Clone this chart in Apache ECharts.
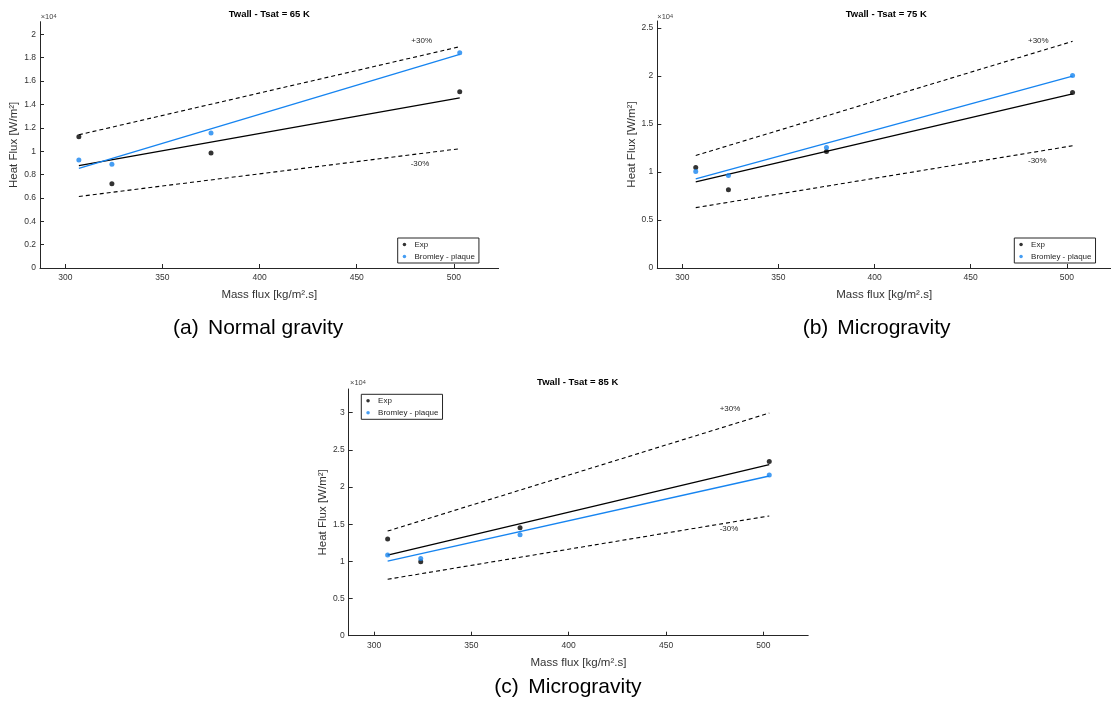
<!DOCTYPE html>
<html>
<head>
<meta charset="utf-8">
<script src="https://cdn.jsdelivr.net/npm/echarts@6/dist/echarts.min.js"></script>
<style>
html,body{margin:0;padding:0;background:#fff;}
#chart{width:1111px;height:707px;}
</style>
</head>
<body>
<div id="chart"></div>
<script>
// ---------- data ----------
const massFlux = [307, 324, 375, 503];          // kg/m2.s
const fitX = [307, 503];

// (a) Twall - Tsat = 65 K, normal gravity   [W/m2]
const expA      = [11240, 7210, 9840, 15080];
const bromA     = [9240, 8870, 11560, 18430];
const expFitA   = [8760, 14560];
const bromFitA  = [8530, 18280];
const plusA     = [11400, 18940];
const minusA    = [6120, 10210];

// (b) Twall - Tsat = 75 K, microgravity
const expB      = [10470, 8140, 12140, 18290];
const bromB     = [10050, 9630, 12550, 20060];
const expFitB   = [8970, 18150];
const bromFitB  = [9280, 19990];
const plusB     = [11720, 23610];
const minusB    = [6290, 12730];

// (c) Twall - Tsat = 85 K, microgravity
const expC      = [13000, 9940, 14510, 23430];
const bromC     = [10870, 10390, 13580, 21610];
const expFitC   = [10850, 23000];
const bromFitC  = [10030, 21480];
const plusC     = [14070, 29950];
const minusC    = [7590, 16110];

// axis ticks
const xTicks  = [300, 350, 400, 450, 500];
const yTicksA = [0, 2000, 4000, 6000, 8000, 10000, 12000, 14000, 16000, 18000, 20000];
const yTicksB = [0, 5000, 10000, 15000, 20000, 25000];
const yTicksC = [0, 5000, 10000, 15000, 20000, 25000, 30000];
const xRange = [287, 523];
const yMaxA = 21080, yMaxB = 25730, yMaxC = 33180;

const titles   = ['Twall - Tsat = 65 K', 'Twall - Tsat = 75 K', 'Twall - Tsat = 85 K'];
const captionTags = ['(a)', '(b)', '(c)'];
const captions = ['Normal gravity', 'Microgravity', 'Microgravity'];
const legendNames = ['Exp', 'Bromley - plaque'];
const xName = 'Mass flux [kg/m\u00B2.s]';
const yName = 'Heat Flux [W/m\u00B2]';

// ---------- styling / layout ----------
const FONT = '"Liberation Sans", Arial, Helvetica, sans-serif';
const AXIS = '#262626';
const BLUE = '#1684f0';

const grids = [
  {left: 40,    top: 21.7, width: 458.6, height: 246.3},
  {left: 657.3, top: 21,   width: 458.6, height: 247},
  {left: 348.7, top: 389,  width: 459.5, height: 246.7}
];
const yMax = [yMaxA, yMaxB, yMaxC];
const yTicks = [yTicksA, yTicksB, yTicksC];

function fmtY(v){ return String(Number((v/1e4).toFixed(2))); }

const xAxes = grids.map((g,i)=>({
  type:'value', gridIndex:i, min:xRange[0], max:xRange[1],
  splitLine:{show:false},
  axisLine:{show:true, onZero:false, lineStyle:{color:AXIS, width:1}},
  axisTick:{show:true, inside:true, length:4, customValues:xTicks, lineStyle:{color:AXIS}},
  axisLabel:{show:true, customValues:xTicks, margin:5, fontSize:8.5, color:'#333', fontFamily:FONT},
  name:xName, nameLocation:'middle', nameGap:21,
  nameTextStyle:{fontSize:11.5, color:'#333', fontFamily:FONT}
}));
const yAxes = grids.map((g,i)=>({
  type:'value', gridIndex:i, min:0, max:yMax[i],
  splitLine:{show:false},
  axisLine:{show:true, onZero:false, lineStyle:{color:AXIS, width:1}},
  axisTick:{show:true, inside:true, length:4, customValues:yTicks[i], lineStyle:{color:AXIS}},
  axisLabel:{show:true, customValues:yTicks[i], margin:4, fontSize:8.5, color:'#333', fontFamily:FONT, formatter:fmtY},
  name:yName, nameLocation:'middle', nameGap:12,
  nameTextStyle:{fontSize:11.5, color:'#333', fontFamily:FONT}
}));

function pairs(xs, ys){ return xs.map((x,k)=>[x, ys[k]]); }

const sets = [
  {exp:expA, brom:bromA, expFit:expFitA, bromFit:bromFitA, plus:plusA, minus:minusA},
  {exp:expB, brom:bromB, expFit:expFitB, bromFit:bromFitB, plus:plusB, minus:minusB},
  {exp:expC, brom:bromC, expFit:expFitC, bromFit:bromFitC, plus:plusC, minus:minusC}
];

const series = [];
sets.forEach((s,i)=>{
  const base = {xAxisIndex:i, yAxisIndex:i, silent:true, animation:false};
  const lineBase = Object.assign({type:'line', symbol:'none', z:2}, base);
  series.push(Object.assign({}, lineBase, {name:'+30% '+i, data:pairs(fitX, s.plus),
    lineStyle:{color:'#000', width:1.1, type:[4,3]}}));
  series.push(Object.assign({}, lineBase, {name:'-30% '+i, data:pairs(fitX, s.minus),
    lineStyle:{color:'#000', width:1.1, type:[4,3]}}));
  series.push(Object.assign({}, lineBase, {name:'fitExp '+i, data:pairs(fitX, s.expFit),
    lineStyle:{color:'#000', width:1.3}}));
  series.push(Object.assign({}, lineBase, {name:'fitBrom '+i, data:pairs(fitX, s.bromFit),
    lineStyle:{color:BLUE, width:1.3}}));
  series.push(Object.assign({type:'scatter', name:legendNames[0], symbol:'circle', symbolSize:5,
    itemStyle:{color:'#000'}, data:pairs(massFlux, s.exp), z:3}, base));
  series.push(Object.assign({type:'scatter', name:legendNames[1], symbol:'circle', symbolSize:5,
    itemStyle:{color:BLUE}, data:pairs(massFlux, s.brom), z:3}, base));
});

const legendPos = [{left:397.7, top:238}, {left:1014.3, top:238}, {left:361.3, top:394.3}];
const legends = legendPos.map(p=>({
  left:p.left, top:p.top, orient:'vertical', data:legendNames, icon:'circle',
  itemWidth:10, itemHeight:3.5, itemGap:2, padding:[1.5,4,1.5,5],
  borderColor:AXIS, borderWidth:1, backgroundColor:'#fff', selectedMode:false,
  textStyle:{fontSize:8, color:'#262626', lineHeight:10, fontFamily:FONT}
}));

// annotations
const graphics = [];
const titlePos = [[269.3,14.7],[886.3,14.7],[577.7,382.7]];
titlePos.forEach((p,i)=>graphics.push({type:'text', x:p[0], y:p[1], silent:true,
  style:{text:titles[i], fill:'#000', font:'bold 9.5px '+FONT, textAlign:'center', textVerticalAlign:'middle'}}));
const expPos = [[40.7,21],[657.3,21],[350,387.3]];
expPos.forEach(p=>graphics.push({type:'text', x:p[0], y:p[1], silent:true,
  style:{text:'{a|\u00D710}{b|4}', textAlign:'left', textVerticalAlign:'bottom',
    rich:{a:{fontSize:7.5, fill:'#444', fontFamily:FONT, verticalAlign:'bottom'},
          b:{fontSize:5.5, fill:'#444', fontFamily:FONT, verticalAlign:'top'}}}}));
const plusPos = [[421.7,41],[1038.3,41],[730,408.3]];
const minusPos = [[420,163.7],[1037.3,161],[729,529]];
plusPos.forEach(p=>graphics.push({type:'text', x:p[0], y:p[1], silent:true,
  style:{text:'+30%', fill:'#262626', font:'8px '+FONT, textAlign:'center', textVerticalAlign:'middle'}}));
minusPos.forEach(p=>graphics.push({type:'text', x:p[0], y:p[1], silent:true,
  style:{text:'-30%', fill:'#262626', font:'8px '+FONT, textAlign:'center', textVerticalAlign:'middle'}}));
const tagPos = [[173,328.3],[802.7,328.3],[494.3,687]];
const capPos = [[208,328.3],[837.3,328.3],[528.3,687]];
tagPos.forEach((p,i)=>graphics.push({type:'text', x:p[0], y:p[1], silent:true,
  style:{text:captionTags[i], fill:'#000', font:'21px '+FONT, textAlign:'left', textVerticalAlign:'middle'}}));
capPos.forEach((p,i)=>graphics.push({type:'text', x:p[0], y:p[1], silent:true,
  style:{text:captions[i], fill:'#000', font:'21px '+FONT, textAlign:'left', textVerticalAlign:'middle'}}));

const chart = echarts.init(document.getElementById('chart'), null, {renderer:'canvas'});
chart.setOption({
  backgroundColor:'#fff',
  animation:false,
  textStyle:{fontFamily:FONT},
  grid:grids,
  xAxis:xAxes,
  yAxis:yAxes,
  legend:legends,
  series:series,
  graphic:graphics
});
</script>
</body>
</html>
